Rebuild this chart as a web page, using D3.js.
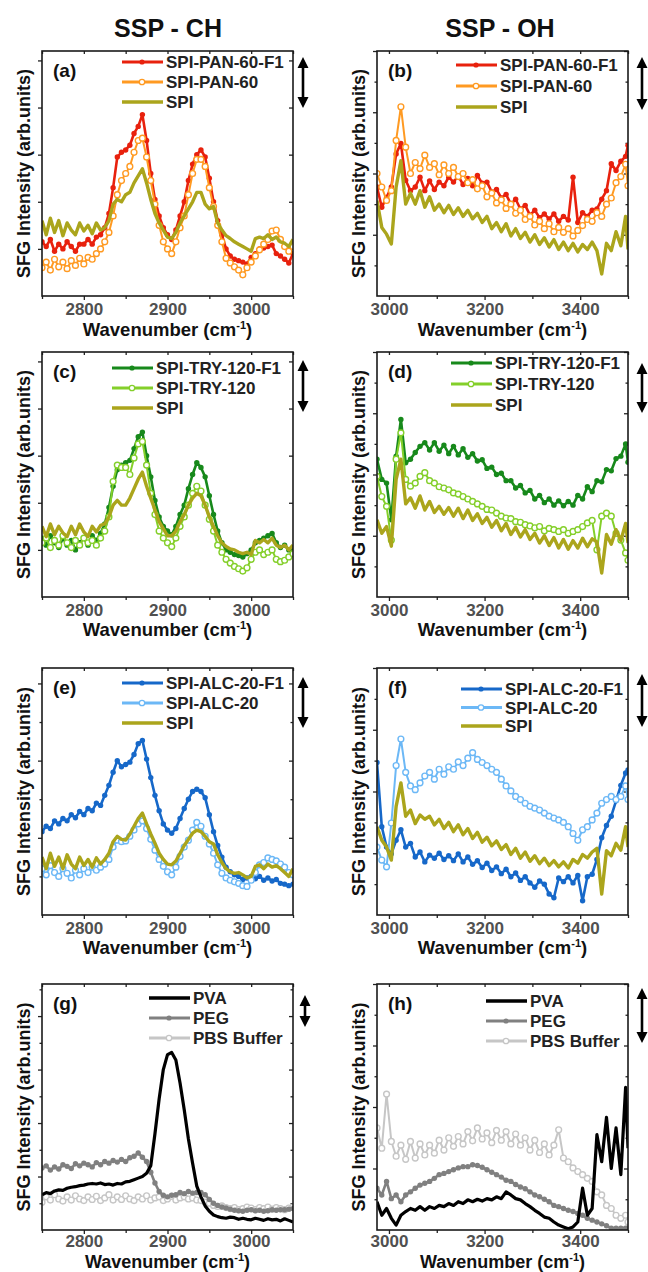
<!DOCTYPE html>
<html>
<head>
<meta charset="utf-8">
<script src="https://cdn.jsdelivr.net/npm/d3@7"></script>
<style>
body { margin: 0; background: #fff; }
svg text { font-family: "Liberation Sans", Arial, sans-serif; font-weight: bold; }
</style>
</head>
<body>
<svg id="chart"></svg>
<script>
// wavenumber grids (cm-1)
const chX = [2750,2755,2760,2765,2770,2775,2780,2785,2790,2795,
  2800,2805,2810,2815,2820,2825,2830,2835,2840,2845,
  2850,2855,2860,2865,2870,2875,2880,2885,2890,2895,
  2900,2905,2910,2915,2920,2925,2930,2935,2940,2945,
  2950,2955,2960,2965,2970,2975,2980,2985,2990,2995,
  3000,3005,3010,3015,3020,3025,3030,3035,3040,3045,
  3050];
const ohX = [2975,2985,2995,3005,3015,3025,3035,3045,3055,3065,
  3075,3085,3095,3105,3115,3125,3135,3145,3155,3165,
  3175,3185,3195,3205,3215,3225,3235,3245,3255,3265,
  3275,3285,3295,3305,3315,3325,3335,3345,3355,3365,
  3375,3385,3395,3405,3415,3425,3435,3445,3455,3465,
  3475,3485,3495,3500];

const chTicks = [2800, 2900, 3000];
const chMinor = [2750, 2850, 2950, 3050];
const ohTicks = [3000, 3200, 3400];
const ohMinor = [3100, 3300, 3500];

// (a) SSP-CH, PAN
const aF1 = [1.15,1.05,1.2,0.95,1.1,1.0,1.15,1.05,0.95,1.1,
  1.1,1.2,1.1,1.25,1.3,1.45,1.75,2.3,2.95,3.05,
  3.1,3.2,3.45,3.6,3.85,3.3,2.6,2.05,1.7,1.45,
  1.3,1.2,1.4,1.7,2.0,2.45,2.8,3.0,3.1,2.95,
  2.5,2.0,1.6,1.3,1.0,0.85,0.78,0.75,0.72,0.68,
  0.82,0.9,1.0,1.02,1.05,1.08,0.9,0.85,0.78,0.7,
  0.9];
const aPAN = [0.6,0.72,0.55,0.78,0.62,0.72,0.58,0.75,0.65,0.8,
  0.68,0.82,0.78,0.9,1.0,1.15,1.35,1.7,2.15,2.45,
  2.6,2.75,3.05,3.3,3.35,2.95,2.45,1.95,1.5,1.15,
  1.0,0.9,1.15,1.45,1.7,2.15,2.6,2.9,2.9,2.75,
  2.3,1.9,1.5,1.15,0.8,0.7,0.62,0.55,0.45,0.6,
  0.72,0.85,0.98,1.1,1.2,1.38,1.4,1.2,1.05,0.95,
  1.05];
const aSPI = [1.6,1.3,1.65,1.35,1.6,1.28,1.55,1.4,1.3,1.55,
  1.38,1.5,1.32,1.55,1.4,1.45,1.6,1.95,2.05,2.0,
  2.15,2.2,2.4,2.55,2.7,2.4,2.05,1.75,1.55,1.4,
  1.25,1.22,1.35,1.55,1.7,1.85,2.0,2.2,2.2,1.95,
  1.85,1.9,1.55,1.4,1.28,1.22,1.15,1.1,1.05,1.0,
  0.95,1.22,1.25,1.22,1.3,1.2,1.25,1.15,1.12,1.05,
  1.2];

// (b) SSP-OH, PAN
const bF1 = [1.78,1.45,1.61,1.78,2.32,2.49,1.89,1.72,1.78,1.94,
  1.72,1.88,1.74,1.86,1.8,1.94,1.86,1.96,1.82,1.92,
  1.8,1.97,1.84,1.86,1.7,1.74,1.6,1.66,1.5,1.58,
  1.42,1.48,1.32,1.4,1.28,1.34,1.26,1.34,1.22,1.3,
  1.24,1.94,1.2,1.36,1.3,1.4,1.42,1.58,1.72,2.16,
  2.05,2.2,2.28,2.46];
const bPAN = [2.0,1.78,1.56,1.72,2.54,3.09,2.43,2.0,2.18,2.08,
  2.3,2.1,2.16,1.98,2.14,2.0,2.1,1.95,2.0,1.85,
  1.9,1.75,1.8,1.62,1.68,1.52,1.57,1.43,1.5,1.35,
  1.4,1.25,1.3,1.16,1.22,1.1,1.18,1.05,1.12,1.04,
  1.1,0.98,1.07,1.15,1.25,1.22,1.36,1.3,1.5,1.6,
  1.85,1.95,2.15,1.8];
const bSPI = [1.56,1.12,1.01,0.85,1.78,2.21,1.5,1.68,1.5,1.72,
  1.45,1.62,1.4,1.5,1.36,1.48,1.33,1.44,1.3,1.4,
  1.26,1.35,1.2,1.3,1.1,1.2,1.05,1.18,0.98,1.1,
  0.94,1.04,0.88,1.0,0.84,0.95,0.8,0.92,0.76,0.88,
  0.74,0.86,0.72,0.84,0.76,0.88,0.74,0.36,0.86,0.74,
  1.05,0.82,1.3,0.76];

// (c) SSP-CH, TRY
const cF1 = [1.25,1.1,1.3,1.15,1.05,1.25,1.1,1.2,1.0,1.15,
  1.25,1.1,1.3,1.2,1.35,1.55,1.9,2.35,2.7,2.8,
  2.85,2.9,3.15,3.4,3.5,3.0,2.55,2.05,1.7,1.5,
  1.4,1.32,1.5,1.75,1.95,2.3,2.6,2.85,2.75,2.55,
  2.15,1.75,1.4,1.15,1.0,0.95,0.9,0.88,0.85,0.92,
  1.0,1.15,1.2,1.25,1.3,1.35,1.15,1.05,1.1,1.0,
  1.05];
const cTRY = [1.15,1.25,1.05,1.2,1.1,1.3,1.15,1.05,1.2,1.1,
  1.25,1.15,1.2,1.1,1.25,1.4,1.7,2.45,2.8,2.75,
  2.75,2.6,2.95,3.25,3.3,2.8,2.2,1.75,1.4,1.25,
  1.15,1.07,1.25,1.5,1.7,1.95,2.2,2.35,2.25,1.95,
  1.65,1.4,1.1,0.95,0.8,0.72,0.65,0.6,0.55,0.62,
  0.8,0.95,1.0,0.9,0.95,1.0,0.8,0.75,0.78,0.85,
  0.92];
const cSPI = [1.5,1.28,1.55,1.32,1.5,1.36,1.28,1.5,1.32,1.55,
  1.38,1.28,1.5,1.38,1.52,1.55,1.7,1.95,2.05,1.95,
  1.95,2.1,2.3,2.5,2.65,2.35,2.1,1.85,1.6,1.45,
  1.3,1.3,1.4,1.6,1.75,1.95,2.1,2.2,2.15,1.95,
  1.7,1.5,1.3,1.15,1.07,1.02,1.0,0.95,0.92,0.95,
  0.9,1.2,1.15,1.22,1.15,1.25,1.1,1.05,1.1,1.0,
  1.1];

// (d) SSP-OH, TRY
const dF1 = [2.25,1.92,1.86,1.26,2.3,2.9,2.19,2.25,2.36,2.46,
  2.52,2.4,2.52,2.38,2.48,2.34,2.46,2.32,2.42,2.28,
  2.34,2.22,2.24,2.1,2.12,2.0,2.02,1.9,1.9,1.78,
  1.82,1.7,1.74,1.6,1.66,1.54,1.6,1.5,1.57,1.49,
  1.56,1.5,1.66,1.6,1.8,1.72,1.9,1.88,2.08,2.06,
  2.26,2.3,2.5,2.2];
const dTRY = [1.97,1.64,1.48,0.93,2.25,2.68,1.92,1.81,1.86,1.97,
  2.03,1.9,1.86,1.8,1.78,1.75,1.7,1.68,1.64,1.6,
  1.56,1.52,1.48,1.43,1.42,1.37,1.32,1.29,1.28,1.23,
  1.22,1.18,1.16,1.13,1.15,1.08,1.12,1.1,1.07,1.1,
  1.04,1.07,1.1,1.15,1.21,1.25,0.77,1.32,1.37,1.32,
  1.04,0.93,0.72,0.6];
const dSPI = [1.26,1.04,1.15,0.83,1.92,2.25,1.52,1.62,1.45,1.65,
  1.42,1.56,1.38,1.48,1.35,1.46,1.32,1.45,1.28,1.42,
  1.25,1.36,1.2,1.3,1.14,1.25,1.08,1.2,1.02,1.14,
  0.98,1.1,0.94,1.04,0.88,1.0,0.84,0.97,0.8,0.94,
  0.78,0.92,0.8,0.96,0.82,0.95,0.9,0.39,1.02,0.86,
  1.1,0.92,1.2,0.88];

// (e) SSP-CH, ALC
const eF1 = [1.08,1.15,1.12,1.22,1.18,1.25,1.22,1.3,1.26,1.34,
  1.3,1.38,1.35,1.45,1.42,1.55,1.68,1.85,2.0,1.92,
  1.95,1.98,2.08,2.22,2.26,2.02,1.78,1.55,1.35,1.18,
  1.1,1.06,1.12,1.25,1.38,1.5,1.6,1.63,1.6,1.52,
  1.3,1.08,0.9,0.75,0.62,0.56,0.52,0.5,0.46,0.48,
  0.5,0.47,0.5,0.45,0.48,0.44,0.46,0.41,0.4,0.38,
  0.4];
const eALC = [0.6,0.52,0.64,0.55,0.5,0.6,0.54,0.48,0.58,0.52,
  0.6,0.55,0.62,0.58,0.62,0.66,0.72,0.88,0.97,0.95,
  0.96,1.02,1.1,1.18,1.22,1.12,0.98,0.84,0.72,0.63,
  0.56,0.52,0.62,0.76,0.88,0.97,1.1,1.2,1.15,1.02,
  0.92,0.8,0.65,0.54,0.48,0.45,0.43,0.41,0.38,0.37,
  0.45,0.55,0.65,0.68,0.74,0.72,0.7,0.66,0.62,0.55,
  0.52];
const eSPI = [0.75,0.6,0.8,0.63,0.75,0.6,0.78,0.66,0.6,0.75,
  0.64,0.72,0.62,0.74,0.66,0.72,0.8,0.95,1.02,0.98,
  0.97,1.05,1.15,1.25,1.32,1.18,1.05,0.93,0.8,0.72,
  0.66,0.65,0.7,0.8,0.9,0.98,1.06,1.1,1.08,1.02,
  0.95,0.92,0.78,0.68,0.6,0.56,0.54,0.55,0.52,0.48,
  0.5,0.63,0.65,0.6,0.66,0.62,0.64,0.6,0.55,0.5,
  0.6];

// (f) SSP-OH, ALC
const fF1 = [2.47,1.43,1.1,0.99,1.21,1.38,1.1,1.16,0.94,1.02,
  0.86,0.97,0.92,1.0,0.9,0.96,0.88,0.99,0.86,0.94,
  0.82,0.88,0.77,0.84,0.72,0.78,0.67,0.74,0.62,0.68,
  0.56,0.62,0.52,0.45,0.55,0.5,0.34,0.28,0.6,0.54,
  0.62,0.52,0.64,0.23,0.62,0.66,0.9,1.25,1.45,1.6,
  1.85,2.1,2.3,2.35];
const fALC = [1.1,0.89,0.78,1.49,2.42,2.85,2.31,2.09,2.03,2.14,
  2.25,2.31,2.2,2.36,2.28,2.4,2.36,2.48,2.42,2.54,
  2.63,2.52,2.47,2.42,2.36,2.31,2.2,2.09,2.01,1.92,
  1.87,1.81,1.76,1.73,1.7,1.65,1.6,1.57,1.54,1.5,
  1.43,1.32,1.21,1.38,1.43,1.54,1.65,1.81,1.87,1.92,
  1.87,1.92,2.09,1.87];
const fSPI = [1.43,1.21,1.1,0.89,1.76,2.14,1.6,1.7,1.48,1.62,
  1.55,1.6,1.46,1.55,1.4,1.5,1.35,1.46,1.3,1.4,
  1.24,1.34,1.18,1.26,1.12,1.2,1.06,1.14,0.98,1.08,
  0.92,1.02,0.87,0.96,0.83,0.92,0.8,0.88,0.78,0.86,
  0.76,0.9,0.84,0.98,0.92,1.02,1.08,0.34,1.04,0.96,
  1.16,1.05,1.43,1.1];

// (g) SSP-CH, references
const gPVA = [0.66,0.7,0.68,0.73,0.75,0.74,0.78,0.8,0.81,0.83,
  0.84,0.86,0.87,0.86,0.88,0.85,0.86,0.84,0.87,0.86,
  0.9,0.91,0.94,0.97,1.0,1.06,1.2,1.8,2.45,3.0,
  3.28,3.32,3.18,2.75,2.25,1.7,1.25,0.82,0.62,0.45,
  0.35,0.28,0.25,0.23,0.22,0.24,0.23,0.2,0.22,0.2,
  0.19,0.22,0.2,0.18,0.21,0.19,0.2,0.17,0.21,0.18,
  0.15];
const gPEG = [1.16,1.2,1.12,1.18,1.14,1.22,1.19,1.15,1.24,1.2,
  1.25,1.22,1.18,1.26,1.22,1.28,1.25,1.3,1.27,1.32,
  1.28,1.35,1.38,1.44,1.36,1.28,1.08,0.88,0.72,0.65,
  0.62,0.65,0.66,0.7,0.68,0.72,0.69,0.7,0.7,0.66,
  0.57,0.5,0.46,0.43,0.41,0.39,0.37,0.36,0.35,0.37,
  0.38,0.36,0.37,0.35,0.36,0.38,0.37,0.38,0.38,0.39,
  0.4];
const gPBS = [0.52,0.62,0.56,0.66,0.58,0.54,0.62,0.56,0.64,0.58,
  0.55,0.62,0.57,0.63,0.55,0.6,0.66,0.56,0.62,0.57,
  0.64,0.58,0.55,0.62,0.58,0.64,0.56,0.6,0.62,0.55,
  0.58,0.63,0.56,0.6,0.62,0.58,0.6,0.56,0.55,0.52,
  0.5,0.46,0.44,0.45,0.42,0.4,0.42,0.38,0.4,0.43,
  0.41,0.38,0.42,0.4,0.43,0.39,0.42,0.4,0.38,0.41,
  0.43];

// (h) SSP-OH, references
const hPVA = [0.46,0.24,0.35,0.19,0.08,0.24,0.3,0.35,0.32,0.38,
  0.32,0.38,0.35,0.4,0.38,0.43,0.4,0.46,0.43,0.49,
  0.46,0.5,0.47,0.51,0.49,0.54,0.51,0.62,0.57,0.51,
  0.49,0.43,0.38,0.32,0.27,0.21,0.19,0.13,0.08,0.05,
  0.02,0.05,0.13,0.68,0.24,0.35,1.55,1.11,1.83,1.0,
  1.66,0.9,2.32,1.33];
const hPEG = [0.68,0.57,0.79,0.51,0.57,0.46,0.57,0.62,0.68,0.73,
  0.76,0.79,0.84,0.9,0.92,0.95,0.98,1.01,1.03,1.03,
  1.06,1.05,1.02,0.98,0.94,0.9,0.86,0.81,0.79,0.74,
  0.7,0.67,0.62,0.57,0.54,0.5,0.46,0.4,0.38,0.35,
  0.32,0.3,0.27,0.24,0.19,0.16,0.13,0.1,0.07,0.03,
  0.03,0.03,0.03,0.03];
const hPBS = [1.66,1.33,2.21,1.44,1.2,1.38,1.15,1.44,1.17,1.4,
  1.22,1.38,1.25,1.46,1.3,1.5,1.36,1.52,1.4,1.6,
  1.45,1.66,1.48,1.58,1.42,1.62,1.46,1.6,1.4,1.56,
  1.38,1.5,1.3,1.46,1.26,1.4,1.22,1.38,1.63,1.17,
  1.11,1.01,0.95,0.9,0.84,0.79,0.62,0.57,0.4,0.35,
  0.24,0.19,0.24,0.13];

const names = {
  pan: ["SPI-PAN-60-F1", "SPI-PAN-60", "SPI"],
  tryp: ["SPI-TRY-120-F1", "SPI-TRY-120", "SPI"],
  alc: ["SPI-ALC-20-F1", "SPI-ALC-20", "SPI"],
  ref: ["PVA", "PEG", "PBS Buffer"]
};

const colors = {
  red: "#e8210d", orange: "#ff9a22", olive: "#aba51c",
  dkgreen: "#17891b", ltgreen: "#84cf2a",
  blue: "#1668c9", ltblue: "#6cb8f6",
  black: "#000000", gray: "#808080", ltgray: "#c6c6c6"
};

const svgWidth = 648, svgHeight = 1272;
const chart = d3.select("#chart").attr("width", svgWidth).attr("height", svgHeight);

const colL = {x0: 42, x1: 293}, colR = {x0: 377, x1: 628};
const rows = [[51, 296], [352, 597], [668, 915], [984, 1230]];
// bottom row sits close to the page edge, so its labels are packed tighter
const xTitleGap = [40, 39, 39, 38];
const xTickPad = [3, 3, 3, 1];
const xTitleSize = [18.5, 18.5, 18.5, 18];

function sers(labels, vals, styles) {
  return vals.map((v, i) => ({name: labels[i], values: v, color: styles[i][0], kind: styles[i][1]}));
}

const panels = [
  {tag: "(a)", col: colL, row: 0, ch: true, yMax: 5.2, yMinor: false,
   series: sers(names.pan, [aF1, aPAN, aSPI], [[colors.red, "dot"], [colors.orange, "open"], [colors.olive, "line"]]),
   leg: [80, 11, 20], arrow: [10, 6, 57]},
  {tag: "(b)", col: colR, row: 0, ch: false, yMax: 4, yMinor: true,
   series: sers(names.pan, [bF1, bPAN, bSPI], [[colors.red, "dot"], [colors.orange, "open"], [colors.olive, "line"]]),
   leg: [79, 14, 21], arrow: [14, 6, 59]},
  {tag: "(c)", col: colL, row: 1, ch: true, yMax: 5.2, yMinor: false,
   series: sers(names.tryp, [cF1, cTRY, cSPI], [[colors.dkgreen, "dot"], [colors.ltgreen, "open"], [colors.olive, "line"]]),
   leg: [70, 16, 20], arrow: [10, 8, 60]},
  {tag: "(d)", col: colR, row: 1, ch: false, yMax: 4, yMinor: true,
   series: sers(names.tryp, [dF1, dTRY, dSPI], [[colors.dkgreen, "dot"], [colors.ltgreen, "open"], [colors.olive, "line"]]),
   leg: [74, 11, 21], arrow: [14, 11, 61]},
  {tag: "(e)", col: colL, row: 2, ch: true, yMax: 3.2, yMinor: true,
   series: sers(names.alc, [eF1, eALC, eSPI], [[colors.blue, "dot"], [colors.ltblue, "open"], [colors.olive, "line"]]),
   leg: [80, 15, 20], arrow: [10, 9, 60]},
  {tag: "(f)", col: colR, row: 2, ch: false, yMax: 4, yMinor: true,
   series: sers(names.alc, [fF1, fALC, fSPI], [[colors.blue, "dot"], [colors.ltblue, "open"], [colors.olive, "line"]]),
   leg: [84, 21, 18.5], arrow: [14, 6, 59]},
  {tag: "(g)", col: colL, row: 3, ch: true, yMax: 4.6, yMinor: true,
   series: sers(names.ref, [gPVA, gPEG, gPBS], [[colors.black, "line"], [colors.gray, "dot"], [colors.ltgray, "open"]]),
   leg: [107, 14, 20], arrow: [12, 11, 43]},
  {tag: "(h)", col: colR, row: 3, ch: false, yMax: 4, yMinor: true,
   series: sers(names.ref, [hPVA, hPEG, hPBS], [[colors.black, "line"], [colors.gray, "dot"], [colors.ltgray, "open"]]),
   leg: [109, 17, 20], arrow: [14, 4, 59]}
];

// column titles
chart.append("text").attr("x", 168).attr("y", 37).attr("text-anchor", "middle")
  .style("font-size", "25px").attr("fill", "#111").text("SSP - CH");
chart.append("text").attr("x", 500).attr("y", 37).attr("text-anchor", "middle")
  .style("font-size", "25px").attr("fill", "#111").text("SSP - OH");

function drawOrder(p) {
  // references: buffer first, PVA on top; others: F1, sample, then SPI on top
  return p.series[0].name === "PVA" ? [2, 1, 0] : [0, 1, 2];
}

panels.forEach(function(p, pi) {
  const x0 = p.col.x0, x1 = p.col.x1;
  const top = rows[p.row][0], bottom = rows[p.row][1];
  const xs = p.ch ? chX : ohX;

  const xScale = d3.scaleLinear().domain(p.ch ? [2750, 3050] : [2975, 3500]).range([x0, x1]);
  const yScale = d3.scaleLinear().domain([0, p.yMax]).range([bottom, top]);

  const g = chart.append("g");

  const clipId = "clip" + pi;
  g.append("clipPath").attr("id", clipId).append("rect")
    .attr("x", x0).attr("y", top).attr("width", x1 - x0).attr("height", bottom - top);

  // major / minor y ticks
  const yMaj = d3.range(1, Math.floor(p.yMax) + 1);
  const yMin = p.yMinor ? d3.range(0.5, p.yMax, 1) : [];

  g.append("g").attr("transform", "translate(" + x0 + ",0)")
    .call(d3.axisLeft(yScale).tickValues(yMaj).tickSize(4).tickFormat(""));
  g.append("g").attr("transform", "translate(" + x0 + ",0)")
    .call(d3.axisLeft(yScale).tickValues(yMin).tickSize(2.5).tickFormat(""));
  g.append("g").attr("transform", "translate(" + x1 + ",0)")
    .call(d3.axisRight(yScale).tickValues(yMaj).tickSize(-4).tickFormat(""));
  g.append("g").attr("transform", "translate(" + x1 + ",0)")
    .call(d3.axisRight(yScale).tickValues(yMin).tickSize(-2.5).tickFormat(""));

  // x ticks
  const xb = g.append("g").attr("transform", "translate(0," + bottom + ")")
    .call(d3.axisBottom(xScale).tickValues(p.ch ? chTicks : ohTicks).tickSize(4)
      .tickPadding(xTickPad[p.row]).tickFormat(d3.format("d")));
  xb.selectAll("text").style("font-size", "17px").attr("fill", "#505050");
  g.append("g").attr("transform", "translate(0," + bottom + ")")
    .call(d3.axisBottom(xScale).tickValues(p.ch ? chMinor : ohMinor).tickSize(3).tickFormat(""));
  g.append("g").attr("transform", "translate(0," + top + ")")
    .call(d3.axisTop(xScale).tickValues((p.ch ? chTicks : ohTicks).concat(p.ch ? chMinor : ohMinor)).tickSize(-3).tickFormat(""));

  g.selectAll(".domain").remove();
  g.selectAll(".tick line").attr("stroke", "#222").attr("stroke-width", 1.3);

  // data
  const plot = g.append("g").attr("clip-path", "url(#" + clipId + ")");
  drawOrder(p).forEach(function(si) {
    const s = p.series[si];
    const pts = s.values.map((v, i) => ({x: xs[i], y: v}));
    const line = d3.line().x(d => xScale(d.x)).y(d => yScale(d.y)).curve(d3.curveLinear);
    let lw = 2.6;
    if (s.kind === "line") lw = s.name === "PVA" ? 3.2 : 3.4;
    if (s.kind === "open") lw = 2;
    plot.append("path").datum(pts).attr("d", line)
      .attr("fill", "none").attr("stroke", s.color).attr("stroke-width", lw)
      .attr("stroke-linejoin", "round");
    if (s.kind === "dot") {
      plot.selectAll(null).data(pts).enter().append("circle")
        .attr("cx", d => xScale(d.x)).attr("cy", d => yScale(d.y)).attr("r", 2.7)
        .attr("fill", s.color);
    } else if (s.kind === "open") {
      plot.selectAll(null).data(pts).enter().append("circle")
        .attr("cx", d => xScale(d.x)).attr("cy", d => yScale(d.y)).attr("r", 2.9)
        .attr("fill", "#fff").attr("stroke", s.color).attr("stroke-width", 1.4);
    }
  });

  // frame
  g.append("rect").attr("x", x0).attr("y", top).attr("width", x1 - x0).attr("height", bottom - top)
    .attr("fill", "none").attr("stroke", "#1a1a1a").attr("stroke-width", 1.6);

  // panel tag
  g.append("text").attr("x", x0 + 11).attr("y", top + 26)
    .style("font-size", "19px").attr("fill", "#111").text(p.tag);

  // legend
  const lx = x0 + p.leg[0];
  p.series.forEach(function(s, i) {
    const ly = top + p.leg[1] + i * p.leg[2];
    let lw = s.kind === "line" ? 3.6 : 2.8;
    g.append("line").attr("x1", lx).attr("x2", lx + 41).attr("y1", ly).attr("y2", ly)
      .attr("stroke", s.color).attr("stroke-width", lw);
    if (s.kind === "dot") {
      g.append("circle").attr("cx", lx + 20).attr("cy", ly).attr("r", 2.6).attr("fill", s.color);
    } else if (s.kind === "open") {
      g.append("circle").attr("cx", lx + 20).attr("cy", ly).attr("r", 2.7)
        .attr("fill", "#fff").attr("stroke", s.color).attr("stroke-width", 1.3);
    }
    g.append("text").attr("x", lx + 44).attr("y", ly + 6)
      .style("font-size", "17px").attr("fill", "#222").text(s.name);
  });

  // double-headed arrow
  const ax = x1 + p.arrow[0], ay1 = top + p.arrow[1], ay2 = top + p.arrow[2];
  g.append("line").attr("x1", ax).attr("x2", ax).attr("y1", ay1 + 8).attr("y2", ay2 - 8)
    .attr("stroke", "#000").attr("stroke-width", 2.6);
  g.append("path").attr("fill", "#000")
    .attr("d", `M${ax},${ay1} L${ax - 5.5},${ay1 + 11} L${ax + 5.5},${ay1 + 11} Z M${ax},${ay2} L${ax - 5.5},${ay2 - 11} L${ax + 5.5},${ay2 - 11} Z`);

  // axis titles
  const xl = g.append("text").attr("x", (x0 + x1) / 2).attr("y", bottom + xTitleGap[p.row])
    .attr("text-anchor", "middle").style("font-size", xTitleSize[p.row] + "px").attr("fill", "#111");
  xl.append("tspan").text("Wavenumber (cm");
  xl.append("tspan").attr("dy", -7).style("font-size", "11px").text("-1");
  xl.append("tspan").attr("dy", 7).text(")");

  g.append("text").attr("transform", "translate(" + (x0 - 12) + "," + ((top + bottom) / 2) + ") rotate(-90)")
    .attr("text-anchor", "middle").style("font-size", "18px").attr("fill", "#111")
    .text("SFG Intensity (arb.units)");
});
</script>
</body>
</html>
